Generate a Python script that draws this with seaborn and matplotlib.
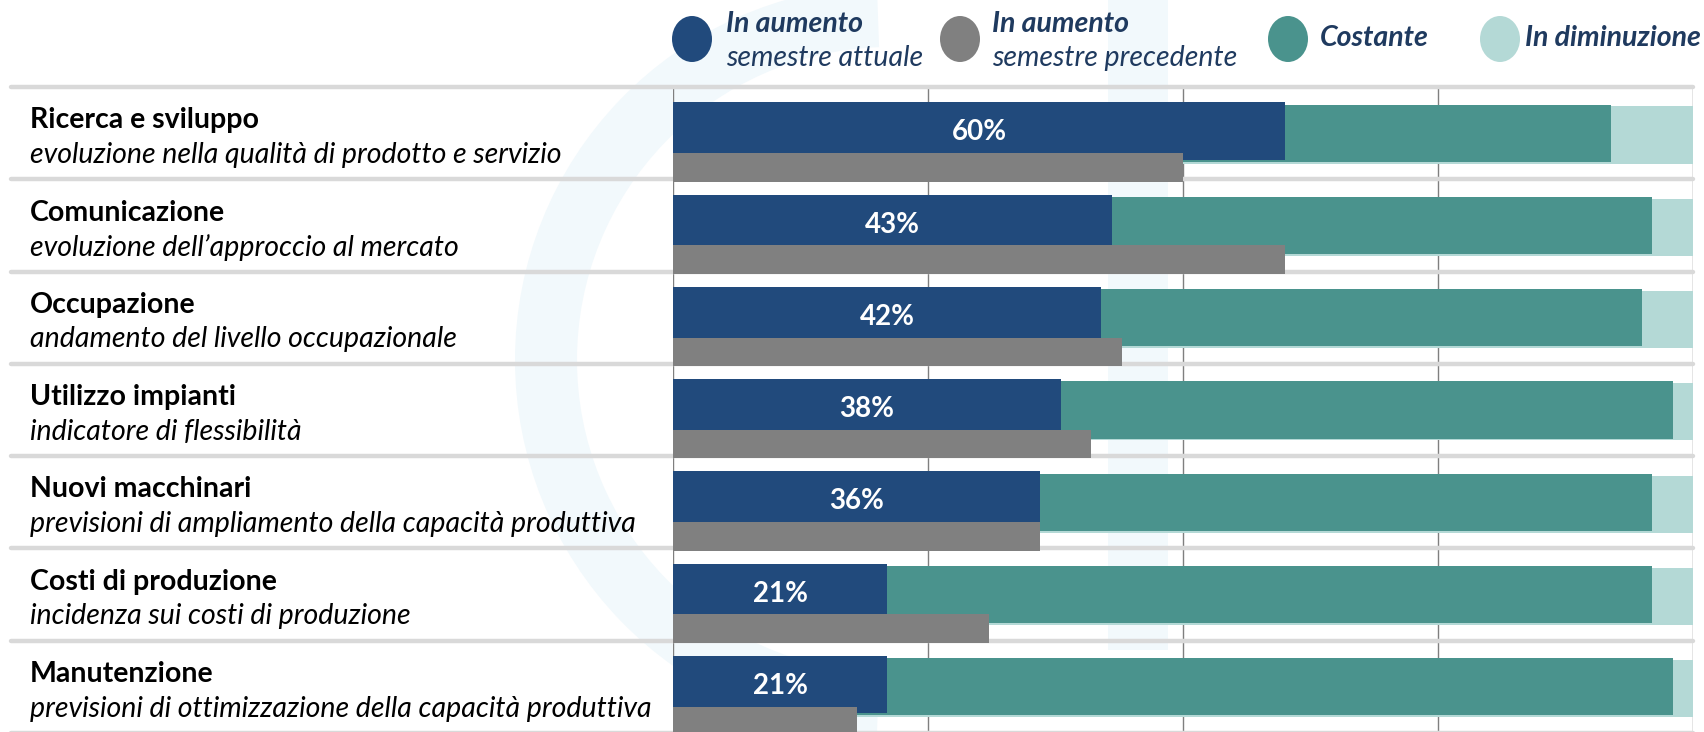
import matplotlib
matplotlib.use("Agg")
import matplotlib.pyplot as plt
from matplotlib.patches import Ellipse, Wedge, Rectangle
import seaborn as sns
import pandas as pd
import numpy as np

# ---- data ----
titles = ["Ricerca e sviluppo", "Comunicazione", "Occupazione", "Utilizzo impianti",
          "Nuovi macchinari", "Costi di produzione", "Manutenzione"]
subtitles = ["evoluzione nella qualità di prodotto e servizio",
             "evoluzione dell\u2019approccio al mercato",
             "andamento del livello occupazionale",
             "indicatore di flessibilità",
             "previsioni di ampliamento della capacità produttiva",
             "incidenza sui costi di produzione",
             "previsioni di ottimizzazione della capacità produttiva"]
aumento_attuale = [60, 43, 42, 38, 36, 21, 21]
aumento_precedente = [50, 60, 44, 41, 36, 31, 18]
costante = [32, 53, 53, 60, 60, 75, 77]
diminuzione = [8, 4, 5, 2, 4, 4, 2]
value_labels = ["60%", "43%", "42%", "38%", "36%", "21%", "21%"]
legend_labels = [("In aumento", "semestre attuale"), ("In aumento", "semestre precedente"),
                 ("Costante", None), ("In diminuzione", None)]

C_BLUE = "#214A7C"
C_GRAY = "#808080"
C_TEAL = "#4A938D"
C_LIGHT = "#B4D9D6"
C_TEXT = "#1F3A5F"
C_WM = "#F2F9FC"

sns.set_theme(style="white")
plt.rcParams["font.family"] = ["Lato", "DejaVu Sans"]

W, H = 1704, 732
FS = 20.5
fig = plt.figure(figsize=(W / 100, H / 100), dpi=100)
fig.patch.set_facecolor("white")

# faint watermark (background logo)
wm = fig.add_axes([0, 0, 1, 1], zorder=-10)
wm.set_xlim(0, W)
wm.set_ylim(H, 0)
wm.axis("off")
wm.add_patch(Wedge((890, 360), 375, 92, 268, width=62, facecolor=C_WM, edgecolor="none"))
wm.add_patch(Rectangle((1108, 0), 60, 650, facecolor=C_WM, edgecolor="none"))

ax_left = 673 / W
ax_w = 1020 / W
ax_top = (H - 87) / H
ax_bot = (H - 733) / H
ax = fig.add_axes([ax_left, ax_bot, ax_w, ax_top - ax_bot])
ax.set_facecolor("none")

n = len(titles)
rows = np.arange(n)
df = pd.DataFrame({
    "row": rows,
    "cur": aumento_attuale,
    "prev": aumento_precedente,
    "cum_const": np.array(aumento_attuale) + np.array(costante),
    "cum_all": np.array(aumento_attuale) + np.array(costante) + np.array(diminuzione),
})

# vertical grid lines
for g in [0, 25, 50, 75, 100]:
    ax.axvline(g, color="#7F7F7F", lw=1.0, zorder=0)

bar_h = 0.62
kw = dict(orient="h", native_scale=True, saturation=1, ax=ax, linewidth=0, edgecolor="none")
# stacked segments drawn cumulatively (slightly staggered like the original)
sns.barplot(data=df.assign(y=df.row + 0.02), x="cum_all", y="y", color=C_LIGHT,
            width=bar_h, zorder=2, **kw)
sns.barplot(data=df.assign(y=df.row + 0.0), x="cum_const", y="y", color=C_TEAL,
            width=bar_h, zorder=3, **kw)
sns.barplot(data=df.assign(y=df.row - 0.024), x="cur", y="y", color=C_BLUE,
            width=bar_h, zorder=4, **kw)
sns.barplot(data=df.assign(y=df.row + 0.37), x="prev", y="y", color=C_GRAY,
            width=0.31, zorder=5, **kw)

for i, (v, lab) in enumerate(zip(aumento_attuale, value_labels)):
    ax.text(v / 2, i - 0.01, lab, color="white", fontsize=FS - 0.5, fontweight="bold",
            ha="center", va="center", zorder=6)

ax.set_xlim(0, 100)
ax.set_ylim(n - 0.5, -0.5)
ax.set_xlabel("")
ax.set_ylabel("")
ax.set_xticks([])
ax.set_yticks([])
for s in ax.spines.values():
    s.set_visible(False)

# horizontal separators across full width
xmin_frac = (11 - 673) / 1020
for k in range(n + 1):
    ax.axhline(k - 0.5, xmin=xmin_frac, xmax=1.0, color="#D9D9D9", lw=3.2,
               clip_on=False, zorder=1)

# left labels
lx = 30 / W
trans = matplotlib.transforms.blended_transform_factory(fig.transFigure, ax.transData)
for i in range(n):
    ax.text(lx, i - 0.14, titles[i], transform=trans, fontsize=FS, fontweight="bold",
            color="black", ha="left", va="center")
    ax.text(lx, i + 0.235, subtitles[i], transform=trans, fontsize=FS, style="italic",
            color="black", ha="left", va="center")

# legend
lcolors = [C_BLUE, C_GRAY, C_TEAL, C_LIGHT]
cx = [692, 960, 1288, 1500]
tx = [726, 992, 1320, 1525]
cy = 39
for c, x0, t0, (l1, l2) in zip(lcolors, cx, tx, legend_labels):
    e = Ellipse((x0 / W, 1 - cy / H), 40 / W, 46 / H, transform=fig.transFigure,
                facecolor=c, edgecolor="none")
    fig.patches.append(e)
    if l2 is None:
        fig.text(t0 / W, 1 - 38 / H, l1, fontsize=FS, fontweight="bold", style="italic",
                 color=C_TEXT, ha="left", va="center")
    else:
        fig.text(t0 / W, 1 - 24 / H, l1, fontsize=FS, fontweight="bold", style="italic",
                 color=C_TEXT, ha="left", va="center")
        fig.text(t0 / W, 1 - 58 / H, l2, fontsize=FS, style="italic",
                 color=C_TEXT, ha="left", va="center")

fig.savefig("out.png", dpi=100, facecolor="white")
